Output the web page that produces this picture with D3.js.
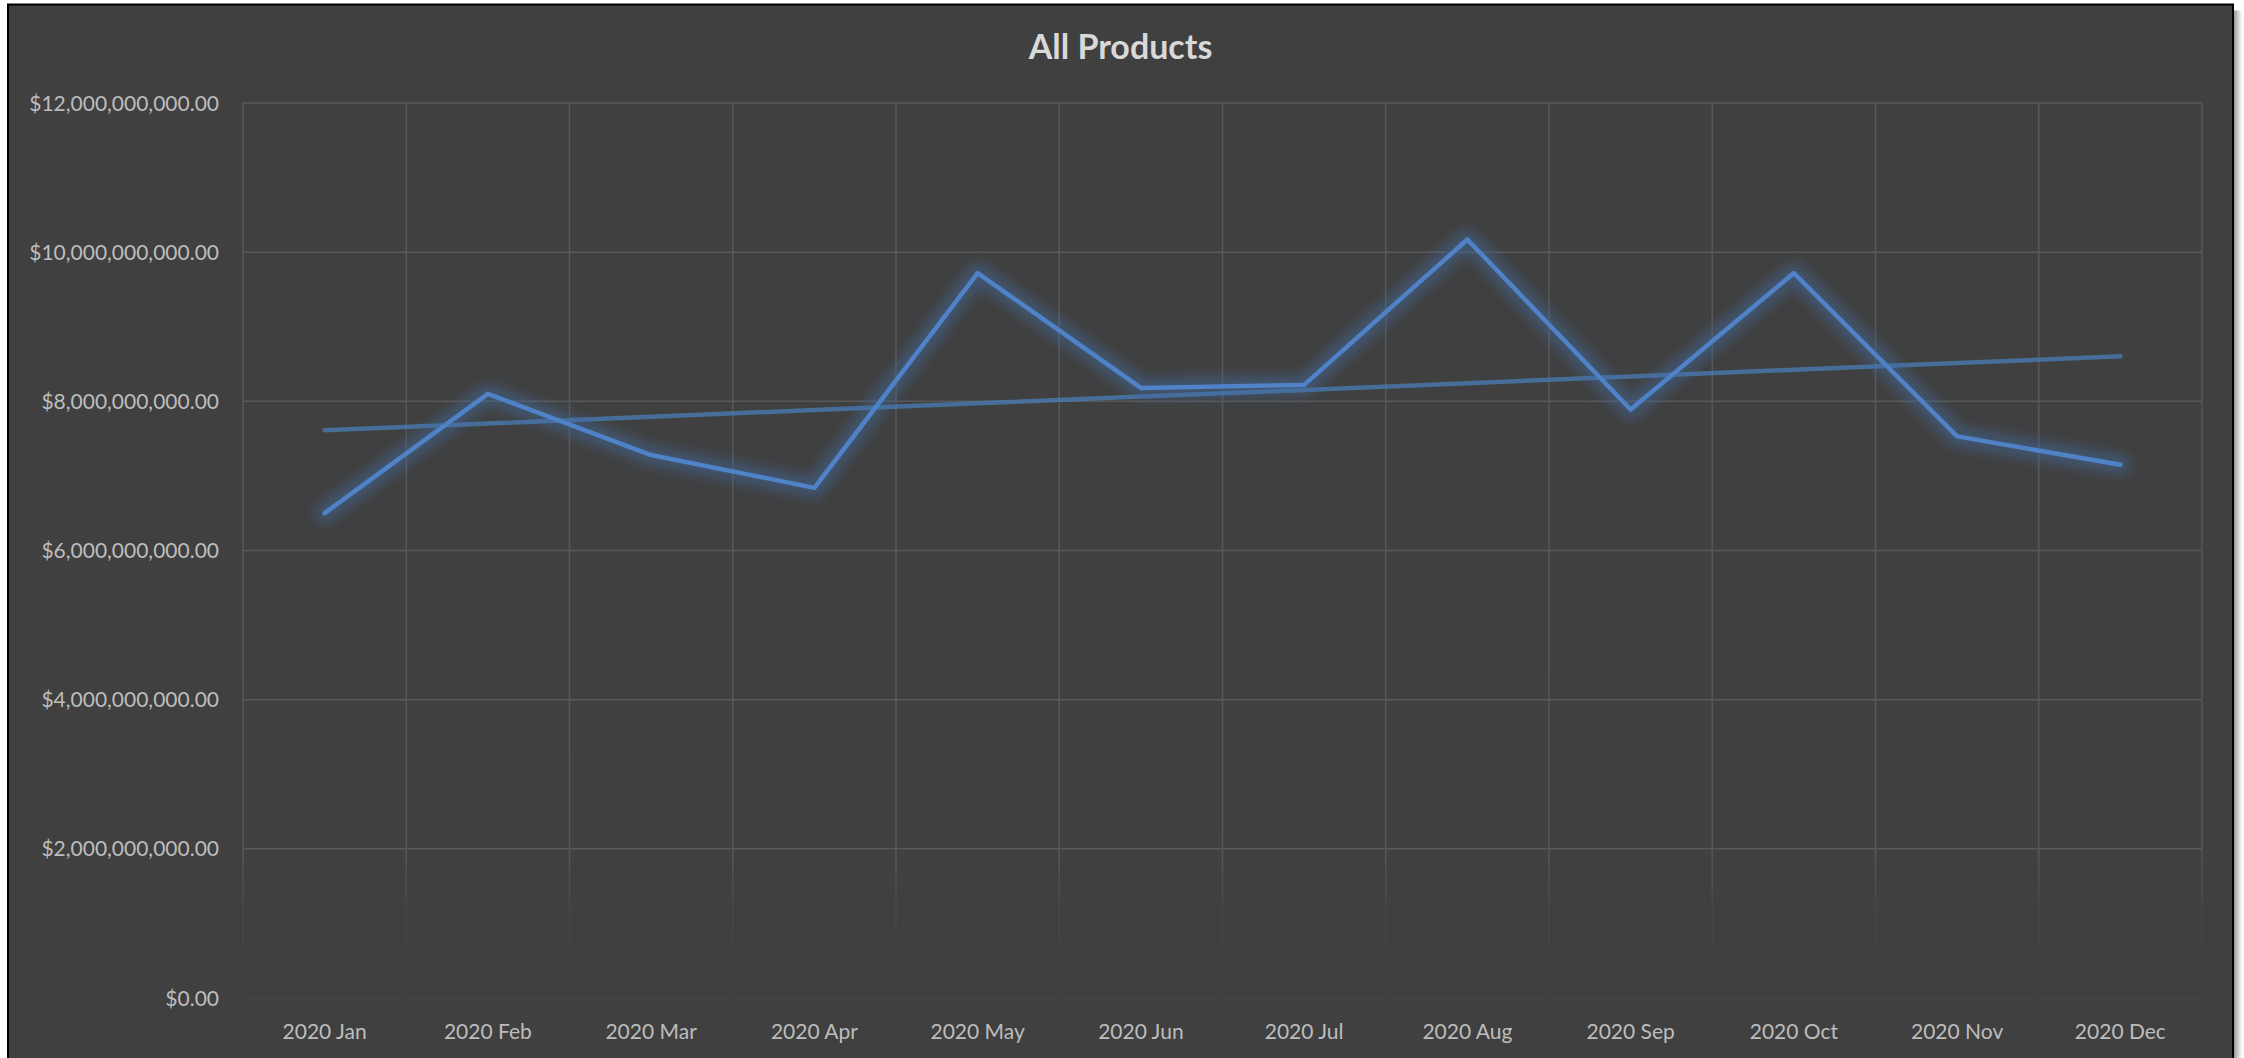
<!DOCTYPE html>
<html>
<head>
<meta charset="utf-8">
<script src="https://cdn.jsdelivr.net/npm/d3@7"></script>
<style>
  html, body { margin: 0; padding: 0; background: #ffffff; }
  svg { display: block; }
  text { font-family: Lato, "Open Sans", sans-serif; }
</style>
</head>
<body>
<svg id="chart" width="2244" height="1058"></svg>
<script>
// Monthly sales, all products
const months = ["2020 Jan", "2020 Feb", "2020 Mar", "2020 Apr", "2020 May", "2020 Jun",
                "2020 Jul", "2020 Aug", "2020 Sep", "2020 Oct", "2020 Nov", "2020 Dec"];
const sales = [6.50e9, 8.10e9, 7.28e9, 6.84e9, 9.72e9, 8.18e9,
               8.22e9, 10.17e9, 7.89e9, 9.72e9, 7.53e9, 7.15e9];
const yTicks = [0, 2e9, 4e9, 6e9, 8e9, 10e9, 12e9];
const chartTitle = "All Products";

const W = 2244, H = 1058;
const frame = { x: 8, y: 4.5, right: 2233 };
const plot = { left: 243, right: 2202, top: 103, bottom: 998 };

const svg = d3.select("#chart");
const defs = svg.append("defs");

// soft glow under the series line
const glow = defs.append("filter").attr("id", "glow")
  .attr("x", "-10%").attr("y", "-30%").attr("width", "120%").attr("height", "160%");
glow.append("feGaussianBlur").attr("stdDeviation", 6);

// drop shadow along the right edge of the frame
const shadow = defs.append("linearGradient").attr("id", "rshadow")
  .attr("x1", "0").attr("x2", "1").attr("y1", "0").attr("y2", "0");
shadow.append("stop").attr("offset", "0").attr("stop-color", "#9a9a9a");
shadow.append("stop").attr("offset", "1").attr("stop-color", "#ffffff");

// vertical grid lines fade out toward the bottom
const vfade = defs.append("linearGradient").attr("id", "vfade")
  .attr("gradientUnits", "userSpaceOnUse")
  .attr("x1", 0).attr("x2", 0).attr("y1", plot.top).attr("y2", plot.bottom);
const span = plot.bottom - plot.top;
[[plot.top, "#585858"], [852, "#565656"], [898, "#4b4b4b"], [899, "#474747"],
 [944, "#454545"], [945, "#424242"], [plot.bottom, "#424242"]]
  .forEach(([y, c]) => vfade.append("stop")
    .attr("offset", (y - plot.top) / span).attr("stop-color", c));

// right-edge shadow and chart frame
svg.append("rect")
  .attr("x", frame.right + 1).attr("y", frame.y + 6)
  .attr("width", 8).attr("height", H - frame.y - 6)
  .attr("fill", "url(#rshadow)");
svg.append("rect")
  .attr("x", frame.x).attr("y", frame.y)
  .attr("width", frame.right - frame.x).attr("height", H - frame.y + 10)
  .attr("fill", "#404040").attr("stroke", "#000000").attr("stroke-width", 2);

// scales
const x = d3.scaleBand().domain(months).range([plot.left, plot.right]).padding(0);
const y = d3.scaleLinear().domain([0, 12e9]).range([plot.bottom, plot.top]);
const cx = m => x(m) + x.bandwidth() / 2;

// horizontal grid lines
svg.append("g").selectAll("line")
  .data(yTicks.filter(t => t > 0))
  .join("line")
  .attr("x1", plot.left).attr("x2", plot.right)
  .attr("y1", d => y(d)).attr("y2", d => y(d))
  .attr("stroke", "#585858").attr("stroke-width", 1.5);

// baseline at zero
svg.append("line")
  .attr("x1", plot.left).attr("x2", plot.right)
  .attr("y1", y(0)).attr("y2", y(0))
  .attr("stroke", "#464646").attr("stroke-width", 1.5);

// vertical grid lines at category boundaries
const vEdges = months.map(m => x(m)).concat([plot.right]);
svg.append("g").selectAll("line")
  .data(vEdges)
  .join("line")
  .attr("x1", d => d).attr("x2", d => d)
  .attr("y1", plot.top).attr("y2", plot.bottom)
  .attr("stroke", "url(#vfade)").attr("stroke-width", 1.5);

// y axis labels
const fmt = d3.format("$,.2f");
svg.append("g").selectAll("text")
  .data(yTicks)
  .join("text")
  .attr("x", 219).attr("y", d => y(d))
  .attr("dy", "0.36em")
  .attr("text-anchor", "end")
  .attr("font-size", 21)
  .attr("fill", "#bdbdbd")
  .text(d => fmt(d));

// x axis labels
svg.append("g").selectAll("text")
  .data(months)
  .join("text")
  .attr("x", d => cx(d)).attr("y", 1039)
  .attr("text-anchor", "middle")
  .attr("font-size", 21)
  .attr("fill", "#bdbdbd")
  .text(d => d);

// linear trend (least squares over month index)
const idx = sales.map((_, i) => i + 1);
const mx = d3.mean(idx), my = d3.mean(sales);
const slope = d3.sum(idx, (v, i) => (v - mx) * (sales[i] - my)) / d3.sum(idx, v => (v - mx) ** 2);
const intercept = my - slope * mx;
const trend = idx.map(v => intercept + slope * v);

const line = d3.line().x((d, i) => cx(months[i])).y(d => y(d));

svg.append("path")
  .attr("d", line(trend))
  .attr("fill", "none")
  .attr("stroke", "#4a7ebb").attr("stroke-opacity", 0.72)
  .attr("stroke-width", 4.5)
  .attr("stroke-linecap", "round");

// series glow and line
svg.append("path")
  .attr("d", line(sales))
  .attr("fill", "none")
  .attr("stroke", "#3f6ea8").attr("stroke-opacity", 0.45)
  .attr("stroke-width", 20)
  .attr("stroke-linejoin", "round").attr("stroke-linecap", "round")
  .attr("filter", "url(#glow)");
svg.append("path")
  .attr("d", line(sales))
  .attr("fill", "none")
  .attr("stroke", "#4f82c6")
  .attr("stroke-width", 4.5)
  .attr("stroke-linejoin", "round").attr("stroke-linecap", "round");

// title
svg.append("text")
  .attr("x", (frame.x + frame.right) / 2).attr("y", 59)
  .attr("text-anchor", "middle")
  .attr("font-size", 34).attr("font-weight", "bold")
  .attr("fill", "#d9d9d9")
  .text(chartTitle);
</script>
</body>
</html>
